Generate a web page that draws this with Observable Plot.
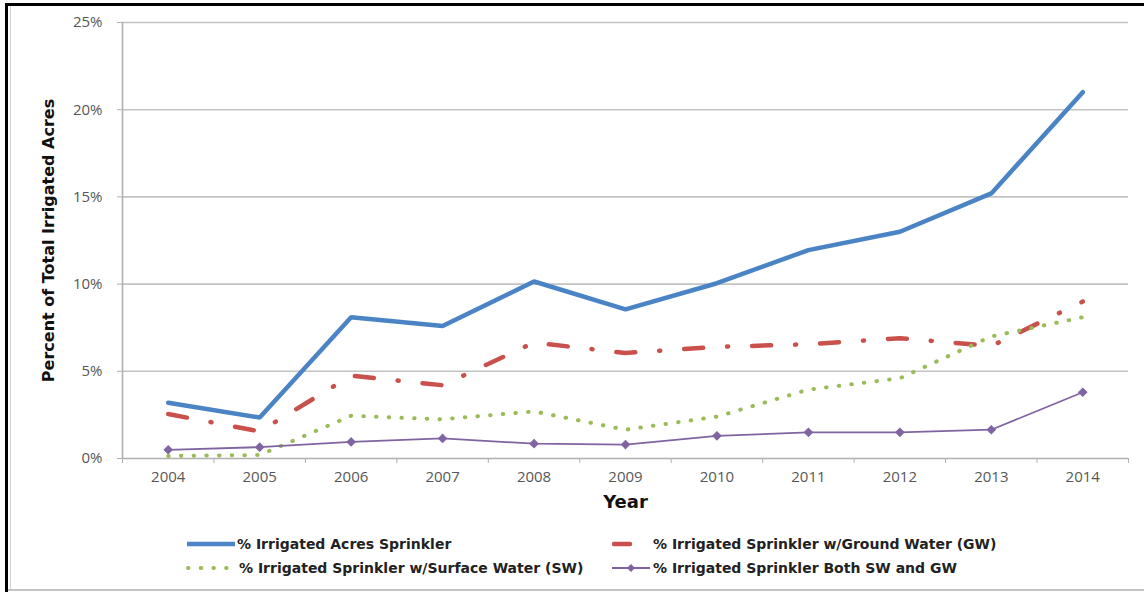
<!DOCTYPE html>
<html>
<head>
<meta charset="utf-8">
<script src="https://cdn.jsdelivr.net/npm/d3@7"></script>
<script src="https://cdn.jsdelivr.net/npm/@observablehq/plot@0.6"></script>
<style>
  body { margin: 0; background: #fff; }
  #page { position: relative; width: 1144px; height: 592px; overflow: hidden; background: #fff; font-family: "Open Sans", sans-serif; }
  .rule { position: absolute; }
  #chart { position: absolute; left: 0; top: 0; }
  .item { position: absolute; display: flex; align-items: center; height: 20px; font-family: "DejaVu Sans", sans-serif; font-size: 14px; font-weight: bold; color: #222; white-space: nowrap; }
  .item svg { display: block; margin-right: 1px; }
</style>
</head>
<body>
<div id="page">
  <div class="rule" style="left:5px;top:3px;width:1139px;height:3px;background:#000"></div>
  <div class="rule" style="left:5px;top:3px;width:3px;height:589px;background:#000"></div>
  <div class="rule" style="left:10px;top:6px;width:1px;height:584px;background:#d0d0d0"></div>
  <div class="rule" style="left:8px;top:589px;width:1136px;height:2px;background:#c4c4c4"></div>
  <div id="chart"></div>
  <div id="legend"></div>
</div>
<script>
// Share of irrigated acres under sprinkler irrigation, by water source (percent)
const years = [2004, 2005, 2006, 2007, 2008, 2009, 2010, 2011, 2012, 2013, 2014];
const sprinklerTotal = [3.2, 2.35, 8.1, 7.6, 10.15, 8.55, 10.05, 11.95, 13.0, 15.2, 21.0];
const sprinklerGW    = [2.55, 1.55, 4.75, 4.2, 6.65, 6.05, 6.4, 6.55, 6.9, 6.45, 9.0];
const sprinklerSW    = [0.15, 0.2, 2.45, 2.25, 2.7, 1.65, 2.4, 3.95, 4.6, 7.0, 8.1];
const sprinklerBoth  = [0.5, 0.65, 0.95, 1.15, 0.85, 0.8, 1.3, 1.5, 1.5, 1.65, 3.8];
const yTicks = [0, 5, 10, 15, 20, 25];

const seriesNames = [
  "% Irrigated Acres Sprinkler",
  "% Irrigated Sprinkler w/Ground Water (GW)",
  "% Irrigated Sprinkler w/Surface Water (SW)",
  "% Irrigated Sprinkler Both SW and GW"
];
const colors = ["#4a84c4", "#c9504b", "#9bbb59", "#8064a2"];

const toRows = (values) => years.map((year, i) => ({year, value: values[i]}));
const rowsTotal = toRows(sprinklerTotal);
const rowsGW = toRows(sprinklerGW);
const rowsSW = toRows(sprinklerSW);
const rowsBoth = toRows(sprinklerBoth);

// category boundaries for the x-axis tick marks
const boundaries = [...years.map(y => y - 0.5), years[years.length - 1] + 0.5];

const tickFont = {fontSize: 15, fill: "#575757", fontFamily: "Open Sans"};
const titleFont = {fontFamily: "DejaVu Sans", fontWeight: "bold", fill: "#111"};

const chart = Plot.plot({
  width: 1144,
  height: 520,
  marginLeft: 122,
  marginRight: 16,
  marginTop: 22,
  marginBottom: 62,
  style: {background: "transparent", fontFamily: "Open Sans"},
  x: {type: "linear", domain: [2003.5, 2014.5]},
  y: {domain: [0, 25]},
  marks: [
    Plot.ruleY(yTicks.filter(d => d > 0), {stroke: "#c3c3c3", strokeWidth: 1.6}),
    Plot.ruleX([2003.5], {stroke: "#b0b0b0", strokeWidth: 1.6}),
    Plot.ruleY([0], {stroke: "#b0b0b0", strokeWidth: 1.6}),
    Plot.axisY({ticks: yTicks, tickSize: 5, tickPadding: 15, tickFormat: d => d + "%", stroke: "#b0b0b0", ...tickFont, label: null}),
    Plot.axisX({ticks: boundaries, tickSize: 5, tickFormat: () => "", stroke: "#b0b0b0", label: null}),
    Plot.axisX({ticks: years, tickSize: 0, tickPadding: 13, tickFormat: d => String(d), ...tickFont, label: null}),
    Plot.lineY(rowsTotal, {x: "year", y: "value", stroke: colors[0], strokeWidth: 4.5, strokeLinejoin: "miter"}),
    Plot.lineY(rowsGW, {x: "year", y: "value", stroke: colors[1], strokeWidth: 4.5, strokeDasharray: "19,24,1,24", strokeLinecap: "round"}),
    Plot.lineY(rowsSW, {x: "year", y: "value", stroke: colors[2], strokeWidth: 4, strokeDasharray: "0.5,12.2", strokeLinecap: "round"}),
    Plot.lineY(rowsBoth, {x: "year", y: "value", stroke: colors[3], strokeWidth: 1.8}),
    Plot.dot(rowsBoth, {x: "year", y: "value", symbol: "square", rotate: 45, r: 3.3, fill: colors[3], stroke: colors[3], strokeWidth: 1}),
    Plot.text(["Percent of Total Irrigated Acres"], {frameAnchor: "left", dx: -74, rotate: -90, textAnchor: "middle", lineAnchor: "middle", fontSize: 16, ...titleFont}),
    Plot.text(["Year"], {frameAnchor: "bottom", dy: 44, lineAnchor: "middle", fontSize: 18, ...titleFont})
  ]
});
document.getElementById("chart").appendChild(chart);

// legend below the plot
const swatches = [
  `<svg width="50" height="10"><line x1="1" y1="5" x2="49" y2="5" stroke="${colors[0]}" stroke-width="4.5"/></svg>`,
  `<svg width="40" height="10"><line x1="2" y1="5" x2="18" y2="5" stroke="${colors[1]}" stroke-width="4.5" stroke-linecap="round"/></svg>`,
  `<svg width="52" height="10"><line x1="2" y1="5" x2="46" y2="5" stroke="${colors[2]}" stroke-width="4" stroke-dasharray="0.5,12.2" stroke-linecap="round"/></svg>`,
  `<svg width="40" height="10"><line x1="0" y1="5" x2="38" y2="5" stroke="${colors[3]}" stroke-width="1.8"/><path d="M19,1 L23,5 L19,9 L15,5 Z" fill="${colors[3]}"/></svg>`
];
const slots = [[186, 534], [612, 534], [186, 558], [612, 558]];
const legend = document.getElementById("legend");
seriesNames.forEach((name, i) => {
  const el = document.createElement("div");
  el.className = "item";
  el.style.left = slots[i][0] + "px";
  el.style.top = slots[i][1] + "px";
  el.innerHTML = swatches[i] + `<span>${name}</span>`;
  legend.appendChild(el);
});
</script>
</body>
</html>
